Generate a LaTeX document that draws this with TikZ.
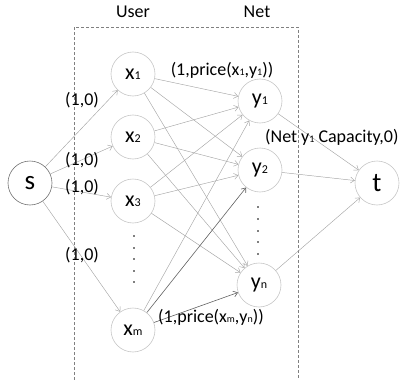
\documentclass[tikz,border=0pt]{standalone}
\usepackage{fontspec}
\setmainfont{Carlito}
\usetikzlibrary{arrows.meta}
\newcommand{\nsub}[1]{{\fontsize{12}{12}\selectfont #1}}
\newcommand{\lsub}[1]{{\fontsize{10}{10}\selectfont #1}}
\begin{document}
\begin{tikzpicture}[x=1pt,y=-1pt,
  vnode/.style={circle,draw=black!22,fill=white,line width=0.6pt,minimum size=44pt,inner sep=0pt,font=\fontsize{22}{22}\selectfont},
  endnode/.style={vnode,font=\fontsize{27}{27}\selectfont},
  edge/.style={draw=black!35,line width=0.45pt,-{Straight Barb[length=4pt,width=6pt]}},
  darkedge/.style={edge,draw=black!62,line width=0.6pt},
  lab/.style={font=\fontsize{18}{20}\selectfont,inner sep=0pt},
  vdots/.style={fill=black!50,minimum size=1.6pt,inner sep=0pt}]
\useasboundingbox (0,0) rectangle (402,380);
% dashed frame
\draw[black!50,dashed,line width=0.6pt,dash pattern=on 3pt off 2pt] (74,380) -- (74,27) -- (298,27) -- (298,380);
\node[lab] (user) at (133,12) {User};
\node[lab] (net) at (257,12) {Net};
% nodes
\node[endnode,draw=black!55] (s) at (30,183) {s};
\node[vnode] (x1) at (133,74) {x\nsub{1}};
\node[vnode] (x2) at (133,137) {x\nsub{2}};
\node[vnode] (x3) at (133,201) {x\nsub{3}};
\node[vnode] (xm) at (133,330) {x\nsub{m}};
\node[vnode] (y1) at (260,101) {y\nsub{1}};
\node[vnode] (y2) at (260,170) {y\nsub{2}};
\node[vnode] (yn) at (259,285) {y\nsub{n}};
\node[endnode] (t) at (377,183) {t};
% dots
\foreach \i/\yy in {1/236,2/248,3/259,4/271,5/282}
  \node[vdots] (dx\i) at (134,\yy) {};
\foreach \i/\yy in {1/207,2/219,3/231,4/242,5/254}
  \node[vdots] (dy\i) at (258,\yy) {};
% edges s -> x
\foreach \x in {x1,x2,x3,xm}
  \draw[edge] (s) -- (\x);
% edges x -> y
\foreach \x in {x1,x2,x3}
  \foreach \y in {y1,y2,yn}
    \draw[edge] (\x) -- (\y);
\draw[edge] (xm) -- (y1);
\draw[darkedge] (xm) -- (y2);
\draw[darkedge] (xm) -- (yn);
% edges y -> t
\foreach \y in {y1,y2,yn}
  \draw[edge] (\y) -- (t);
% labels
\node[lab] (l1) at (82,100) {(1,0)};
\node[lab] (l2) at (82,160) {(1,0)};
\node[lab] (l3) at (82,187) {(1,0)};
\node[lab] (l4) at (82,255) {(1,0)};
\node[lab] (lp1) at (222,70) {(1,price(x\lsub{1},y\lsub{1}))};
\node[lab,anchor=west] (lc) at (265,137) {(Net y\lsub{1} Capacity,0)};
\node[lab] (lpm) at (211,317) {(1,price(x\lsub{m},y\lsub{n}))};
\end{tikzpicture}
\end{document}
